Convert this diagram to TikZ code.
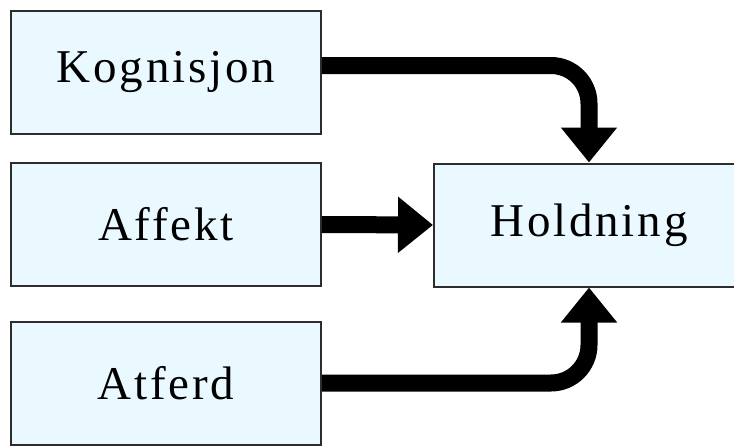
\documentclass[tikz,border=0pt]{standalone}
\usepackage{fontspec}
\setmainfont{Liberation Serif}[LetterSpace=6]
\usetikzlibrary{arrows.meta}

\definecolor{boxfill}{RGB}{234,249,255}
\definecolor{boxline}{RGB}{45,45,45}

\tikzset{
  part/.style={draw=boxline, line width=2pt, fill=boxfill, inner sep=0pt,
               minimum width=310pt, minimum height=123pt,
               font=\fontsize{47}{50}\selectfont},
  flow/.style={line width=17pt, rounded corners=38pt,
               -{Triangle[width=54pt,length=35pt]}}
}

\begin{document}
\begin{tikzpicture}[x=1pt,y=-1pt]
  \useasboundingbox (0,0) rectangle (734,445);

  % Drawing the four boxes
  \node [part] (kog)  at (166,72.5) {Kognisjon};%
  \node [part] (aff)  at (166,224.5) {Affekt};%
  \node [part] (atf)  at (166,383) {Atferd};%
  \node [part] (hold) at (589,225) {Holdning};%

  % Drawing the arrows into Holdning
  \draw [flow] ([yshift=7pt]kog.east) -| (hold.north);%
  \draw [flow] (aff.east) -- (hold.west);%
  \draw [flow] (atf.east) -| (hold.south);%
\end{tikzpicture}
\end{document}
